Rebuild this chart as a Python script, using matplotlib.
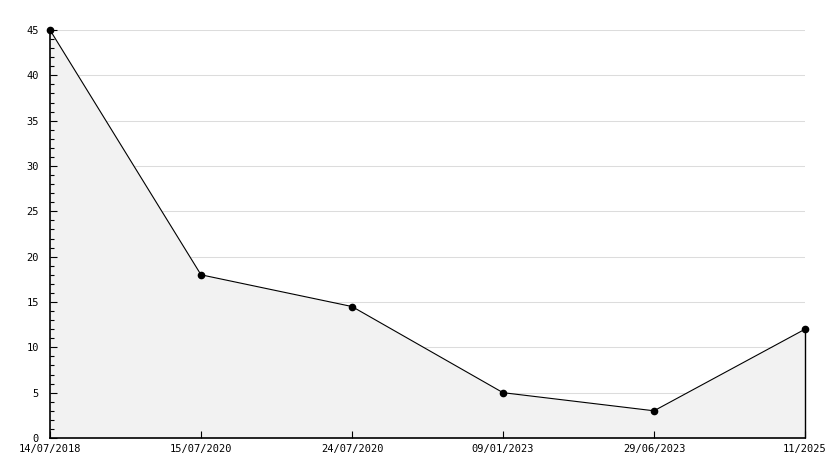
import matplotlib
matplotlib.use("Agg")
import matplotlib.pyplot as plt
from matplotlib.ticker import MultipleLocator

labels = ["14/07/2018", "15/07/2020", "24/07/2020", "09/01/2023", "29/06/2023", "11/2025"]
values = [45, 18, 14.5, 5, 3, 12]
y_major = [5, 10, 15, 20, 25, 30, 35, 40, 45]

W, H = 834, 468
fig = plt.figure(figsize=(W/100, H/100), dpi=100)
ax = fig.add_axes([50/W, (H-438)/H, (805-50)/W, (438-30)/H])

x = list(range(len(values)))
for yv in y_major:
    ax.axhline(yv, color="#dcdcdc", linewidth=0.75, zorder=0.4)
ax.fill_between(x, values, 0, color="#f2f2f2", zorder=1, linewidth=0)
ax.vlines(x[-1], 0, values[-1], color="black", linewidth=1, zorder=2, clip_on=False)
ax.plot(x, values, color="black", linewidth=0.8, marker="o", markersize=4.5,
        zorder=3, clip_on=False)

ax.set_xlim(0, len(values)-1)
ax.set_ylim(0, 45)
ax.yaxis.set_major_locator(MultipleLocator(5))
ax.yaxis.set_minor_locator(MultipleLocator(1))
ax.set_xticks(x)
ax.set_xticklabels(labels)

for s in ["top", "right"]:
    ax.spines[s].set_visible(False)
for s in ["left", "bottom"]:
    ax.spines[s].set_linewidth(1.2)
    ax.spines[s].set_color("black")

ax.tick_params(axis="y", which="major", direction="in", length=5, width=0.8, labelsize=7.5, pad=8)
ax.tick_params(axis="y", which="minor", direction="in", length=3, width=0.8, color="black")
ax.tick_params(axis="x", which="major", direction="in", length=5, width=0.8, labelsize=7.5, pad=4)
for lab in ax.get_xticklabels() + ax.get_yticklabels():
    lab.set_family("DejaVu Sans Mono")

fig.savefig("out.png", dpi=100)
